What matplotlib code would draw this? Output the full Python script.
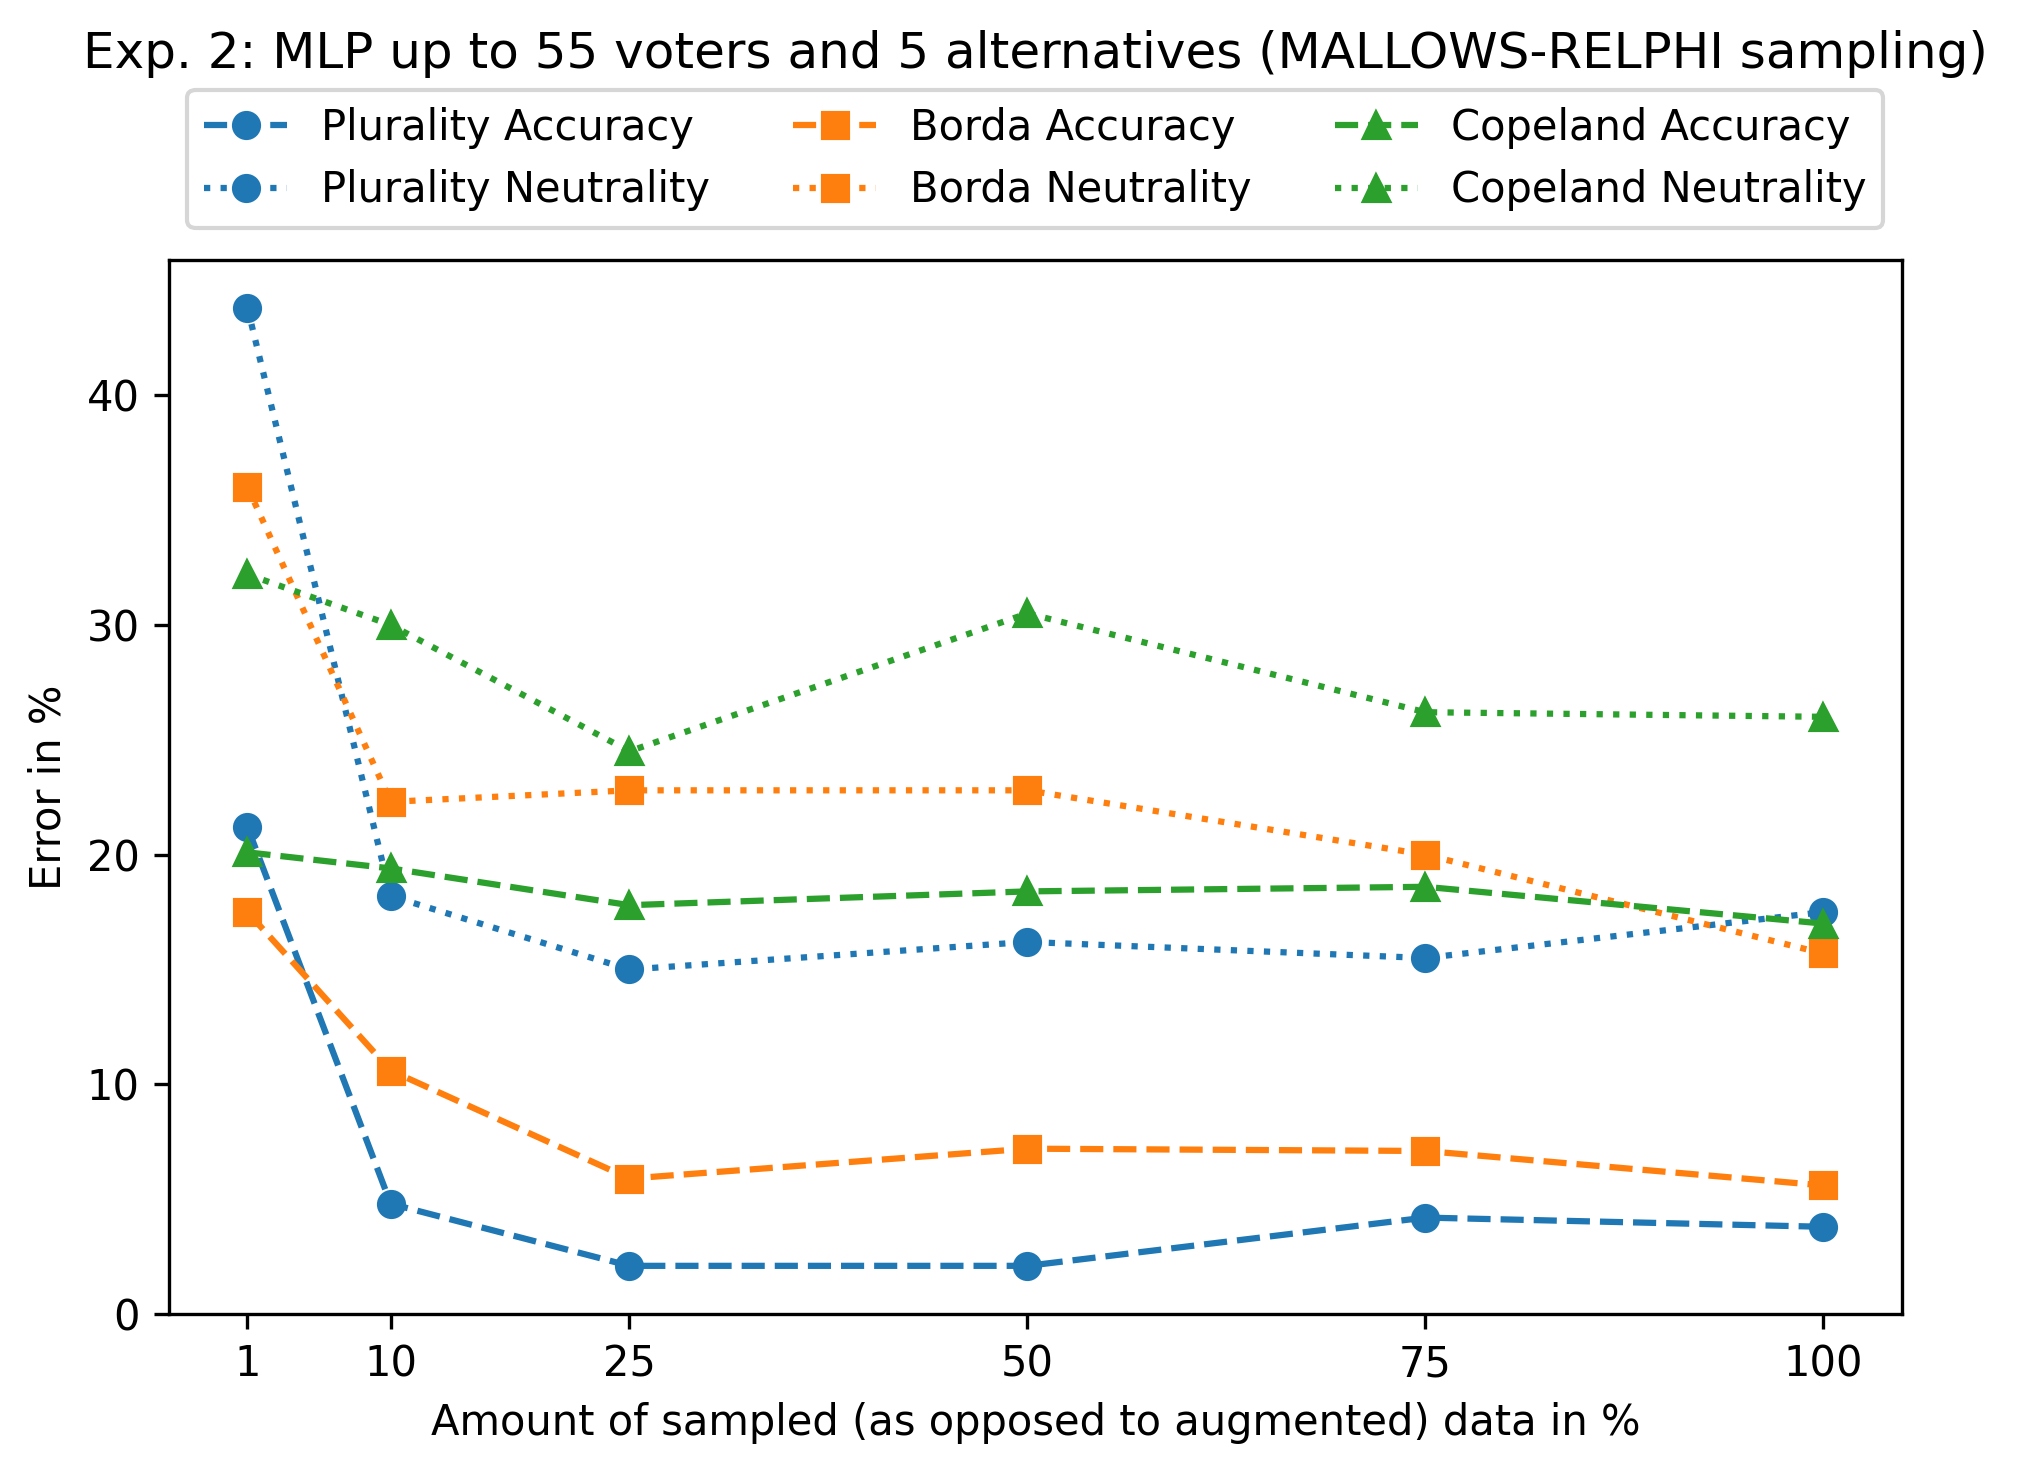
import matplotlib
matplotlib.use("Agg")
import matplotlib.pyplot as plt

# Share of sampled data (x axis)
sampled = [1, 10, 25, 50, 75, 100]

# Error values in %
plurality_acc = [21.2, 4.8, 2.1, 2.1, 4.2, 3.8]
plurality_neu = [43.8, 18.2, 15.0, 16.2, 15.5, 17.5]
borda_acc = [17.5, 10.6, 5.9, 7.2, 7.1, 5.6]
borda_neu = [36.0, 22.3, 22.8, 22.8, 20.0, 15.7]
copeland_acc = [20.1, 19.4, 17.8, 18.4, 18.6, 17.0]
copeland_neu = [32.2, 30.0, 24.5, 30.5, 26.2, 26.0]

fig = plt.figure(figsize=(2018 / 300, 1474 / 300), dpi=300)
ax = fig.add_axes([0.0836, 0.1085, 0.8589, 0.7151])

ax.plot(sampled, plurality_acc, "o--", color="C0", label="Plurality Accuracy")
ax.plot(sampled, plurality_neu, "o:", color="C0", label="Plurality Neutrality")
ax.plot(sampled, borda_acc, "s--", color="C1", label="Borda Accuracy")
ax.plot(sampled, borda_neu, "s:", color="C1", label="Borda Neutrality")
ax.plot(sampled, copeland_acc, "^--", color="C2", label="Copeland Accuracy")
ax.plot(sampled, copeland_neu, "^:", color="C2", label="Copeland Neutrality")

ax.set_ylim(bottom=0)
ax.set_xticks(sampled)
ax.set_xlabel("Amount of sampled (as opposed to augmented) data in %")
ax.set_ylabel("Error in %")

ax.legend(loc="lower center", bbox_to_anchor=(0.5, 1.0105), ncol=3)
ax.set_title("Exp. 2: MLP up to 55 voters and 5 alternatives (MALLOWS-RELPHI sampling)",
             pad=46)

fig.savefig("out.png", dpi=300)
